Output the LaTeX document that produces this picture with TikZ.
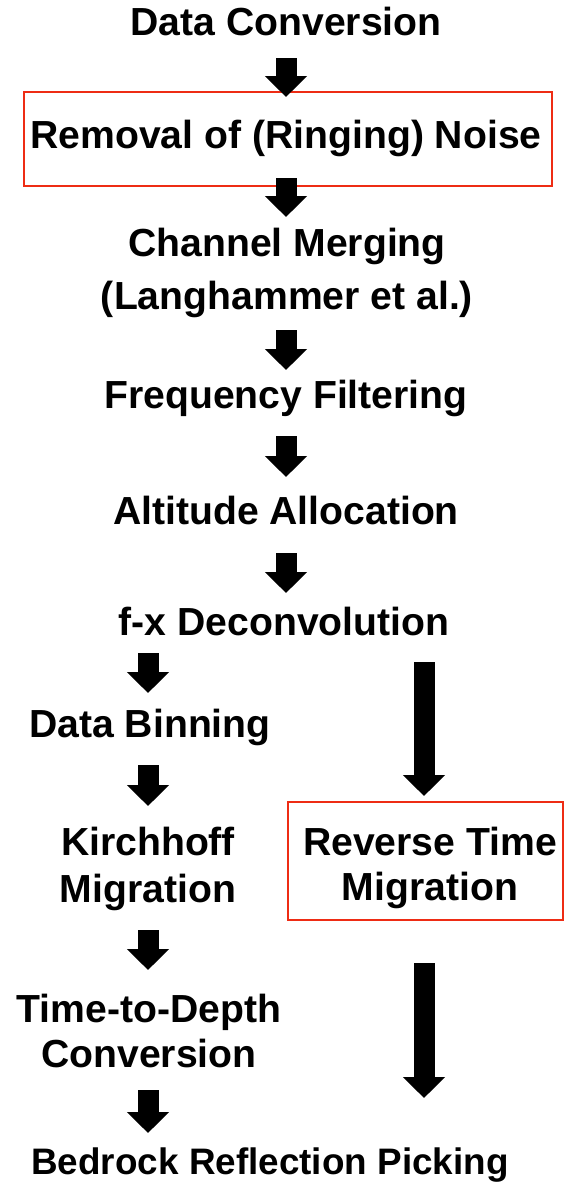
\documentclass[tikz,border=0pt]{standalone}
\usepackage{fontspec}
\setmainfont{Liberation Sans}
\usetikzlibrary{arrows.meta,calc}
\definecolor{boxred}{RGB}{238,44,20}
\begin{document}
\begin{tikzpicture}[x=1bp,y=-1bp,
  lbl/.style={font=\bfseries\fontsize{39.3}{47}\selectfont, inner sep=0pt, align=center},
  redbox/.style={draw=boxred, line width=2bp, inner sep=0pt},
  fat/.style={line width=21bp, -{Triangle[width=41bp,length=21bp]}}]
\useasboundingbox (0,0) rectangle (572,1191);
\node[lbl] (dc) at (286,22) {Data Conversion};
\node[redbox, minimum width=528bp, minimum height=94bp] (rembox) at (288,139) {};
\node[lbl] (rem) at (286,138) {Removal of (Ringing) Noise};
\node[lbl, font=\bfseries\fontsize{39.3}{54}\selectfont] (cm) at (287,273) {Channel Merging\\(Langhammer et al.)};
\node[lbl] (ff) at (286,398) {Frequency Filtering};
\node[lbl] (aa) at (286,510) {Altitude Allocation};
\node[lbl] (fx) at (284,621) {f-x Deconvolution};
\node[lbl] (db) at (150,727) {Data Binning};
\node[lbl] (km) at (148,869) {Kirchhoff\\Migration};
\node[redbox, minimum width=275bp, minimum height=118bp] (rtmbox) at (425.5,861) {};
\node[lbl, font=\bfseries\fontsize{39.3}{46}\selectfont] (rtm) at (430,868) {Reverse Time\\Migration};
\node[lbl, font=\bfseries\fontsize{39.3}{45}\selectfont] (td) at (149,1031) {Time-to-Depth\\Conversion};
\node[lbl, font=\bfseries\fontsize{37}{45}\selectfont] (br) at (270,1165) {Bedrock Reflection Picking};
% connectors
\draw[fat] ($(dc)+(0,36)$) -- ($(rembox.north)+(-2,6)$);
\draw[fat] ($(rembox.south)+(-2,-9)$) -- ($(cm)+(-1,-56)$);
\draw[fat] ($(cm)+(-1,57)$) -- ($(ff)+(0,-28)$);
\draw[fat] ($(ff)+(0,38)$) -- ($(aa)+(0,-33)$);
\draw[fat] ($(aa)+(0,43)$) -- ($(fx)+(2,-28)$);
\draw[fat] ($(db)+(-2,-74)$) -- ($(db)+(-2,-34)$);
\draw[fat] ($(db)+(-2,38)$) -- ($(km)+(0,-63)$);
\draw[fat] ($(km)+(0,61)$) -- ($(td)+(-1,-61)$);
\draw[fat] ($(td)+(-1,59)$) -- ($(br)+(-122,-32)$);
\draw[fat] ($(fx)+(140,41)$) -- ($(rtmbox.north)+(-1.5,-5)$);
\draw[fat] ($(rtmbox.south)+(-1.5,42)$) -- ($(br)+(154,-67)$);
\end{tikzpicture}
\end{document}
